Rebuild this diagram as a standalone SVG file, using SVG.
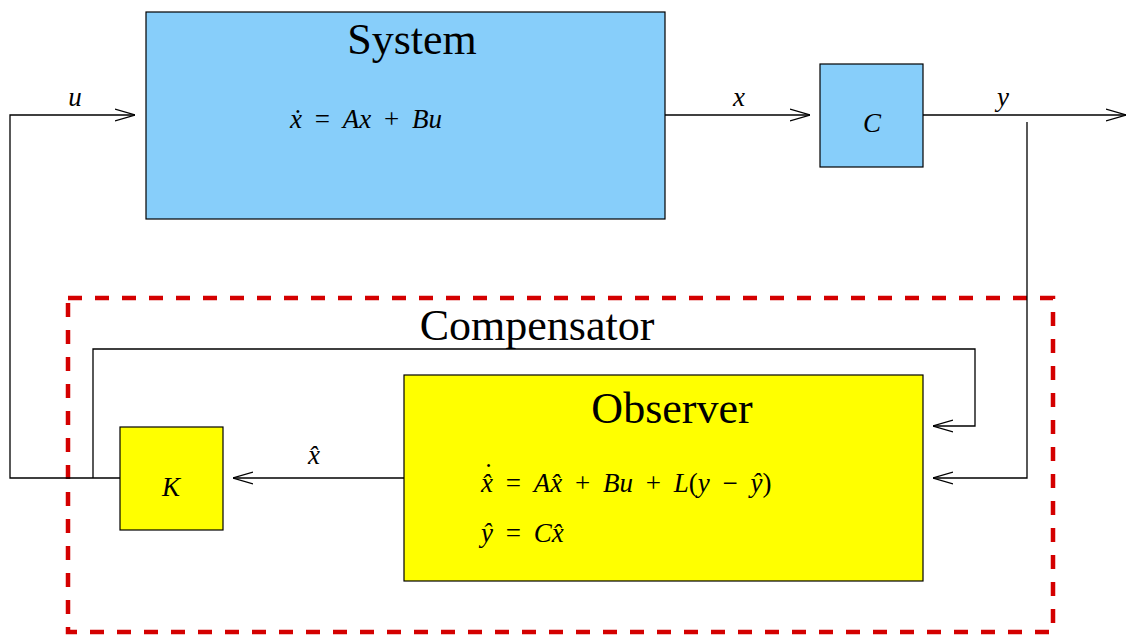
<svg xmlns="http://www.w3.org/2000/svg" width="1128" height="637" viewBox="0 0 1128 637">
<defs>
<marker id="arr" viewBox="0 0 20 14" refX="20" refY="7" markerWidth="20" markerHeight="14" markerUnits="userSpaceOnUse" orient="auto">
<path d="M0,1 L20,7 L0,13" fill="none" stroke="#000" stroke-width="1.3"/>
</marker>
<style>
.box{stroke:#000;stroke-width:1.2}
.ln{fill:none;stroke:#000;stroke-width:1.3}
.title{font-family:"Liberation Serif","Times New Roman",serif;font-size:44px;fill:#000}
.m{font-family:"Liberation Serif","Times New Roman",serif;font-size:27px;fill:#000;word-spacing:6px}
.i{font-style:italic}
</style>
</defs>
<rect x="0" y="0" width="1128" height="637" fill="#fff"/>
<g id="compensator">
<rect x="68" y="298" width="985" height="334" fill="none" stroke="#d40000" stroke-width="4.5" stroke-dasharray="14,13"/>
<text class="title" x="537" y="340" text-anchor="middle">Compensator</text>
</g>
<g id="system">
<rect class="box" x="146" y="12" width="519" height="207" fill="#87cefa"/>
<text class="title" x="412" y="54" text-anchor="middle">System</text>
<text class="m" x="290" y="128"><tspan class="i">ẋ</tspan> = <tspan class="i">Ax</tspan> + <tspan class="i">Bu</tspan></text>
</g>
<g id="C">
<rect class="box" x="820" y="64" width="103" height="103" fill="#87cefa"/>
<text class="m i" x="872" y="132" text-anchor="middle">C</text>
</g>
<g id="observer">
<rect class="box" x="404" y="375" width="519" height="206" fill="#ffff00"/>
<text class="title" x="672" y="423" text-anchor="middle">Observer</text>
<text class="m" x="481" y="492"><tspan x="484" dy="-10">˙</tspan><tspan x="481" dy="10" class="i">x̂</tspan> = <tspan class="i">Ax̂</tspan> + <tspan class="i">Bu</tspan> + <tspan class="i">L</tspan>(<tspan class="i">y</tspan> − <tspan class="i">ŷ</tspan>)</text>
<text class="m" x="481" y="542"><tspan class="i">ŷ</tspan> = <tspan class="i">Cx̂</tspan></text>
</g>
<g id="K">
<rect class="box" x="120" y="427" width="103" height="103" fill="#ffff00"/>
<text class="m i" x="171" y="496" text-anchor="middle">K</text>
</g>
<g id="connectors">
<path class="ln" d="M120,478 H10 V115 H135" marker-end="url(#arr)"/>
<path class="ln" d="M665,115 H810" marker-end="url(#arr)"/>
<path class="ln" d="M923,115 H1126" marker-end="url(#arr)"/>
<path class="ln" d="M1027,122 V478 H933" marker-end="url(#arr)"/>
<path class="ln" d="M404,478 H233" marker-end="url(#arr)"/>
<path class="ln" d="M93,478 V349 H975 V426 H933" marker-end="url(#arr)"/>
<text class="m i" x="75" y="106" text-anchor="middle">u</text>
<text class="m i" x="739" y="106" text-anchor="middle">x</text>
<text class="m i" x="1003" y="106" text-anchor="middle">y</text>
<text class="m i" x="314" y="464" text-anchor="middle">x̂</text>
</g>
</svg>
